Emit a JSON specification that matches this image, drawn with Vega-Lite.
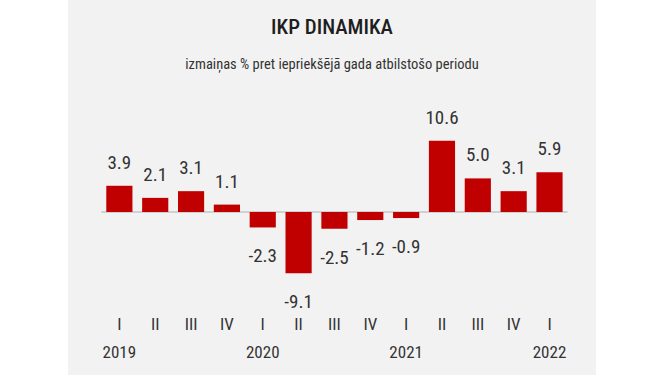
{
  "$schema": "https://vega.github.io/schema/vega-lite/v6.json",
  "width": 528,
  "height": 375,
  "autosize": {"type": "none"},
  "padding": {"left": 68, "right": 69, "top": 0, "bottom": 0},
  "background": "#ffffff",
  "config": {
    "view": {"fill": "#f2f2f2", "stroke": null},
    "font": "Roboto Condensed, Roboto, sans-serif",
    "locale": {"number": {"decimal": ".", "thousands": ",", "grouping": [3], "currency": ["", ""], "minus": "-"}}
  },
  "title": {
    "text": "IKP DINAMIKA",
    "subtitle": "izmaiņas % pret iepriekšējā gada atbilstošo periodu",
    "anchor": "middle",
    "frame": "group",
    "offset": -71,
    "font": "Roboto Condensed, Roboto, sans-serif",
    "fontSize": 21,
    "fontWeight": 500,
    "color": "#1e1e1e",
    "subtitleFont": "Roboto Condensed, Roboto, sans-serif",
    "subtitleFontSize": 14.5,
    "subtitleColor": "#333333",
    "subtitlePadding": 20
  },
  "data": {
    "values": [
      {"q": "2019-I", "v": 3.9},
      {"q": "2019-II", "v": 2.1},
      {"q": "2019-III", "v": 3.1},
      {"q": "2019-IV", "v": 1.1},
      {"q": "2020-I", "v": -2.3},
      {"q": "2020-II", "v": -9.1},
      {"q": "2020-III", "v": -2.5},
      {"q": "2020-IV", "v": -1.2},
      {"q": "2021-I", "v": -0.9},
      {"q": "2021-II", "v": 10.6},
      {"q": "2021-III", "v": 5.0},
      {"q": "2021-IV", "v": 3.1},
      {"q": "2022-I", "v": 5.9}
    ]
  },
  "encoding": {
    "x": {
      "field": "q",
      "type": "ordinal",
      "sort": null,
      "scale": {"paddingInner": 0.27, "paddingOuter": 1.0155, "align": 0.534},
      "axis": {
        "title": null,
        "orient": "bottom",
        "offset": -59,
        "domain": false,
        "ticks": false,
        "labelPadding": 0,
        "labelAngle": 0,
        "labelBaseline": "top",
        "labelFont": "Roboto Condensed, Roboto, sans-serif",
        "labelFontSize": 17,
        "labelColor": "#333333",
        "labelLineHeight": 28,
        "labelExpr": "[split(datum.value, '-')[1], split(datum.value, '-')[1] == 'I' ? split(datum.value, '-')[0] : '']"
      }
    },
    "y": {
      "field": "v",
      "type": "quantitative",
      "scale": {"domain": [-24.26, 31.55], "nice": false, "zero": false},
      "axis": null
    }
  },
  "layer": [
    {
      "mark": {"type": "tick", "color": "#b3b3b3", "thickness": 1.5, "size": 36, "orient": "horizontal"},
      "encoding": {"y": {"datum": 0}}
    },
    {
      "mark": {"type": "bar", "color": "#c00000"},
      "encoding": {"y2": {"datum": 0}}
    },
    {
      "transform": [{"filter": "datum.v >= 0"}],
      "mark": {"type": "text", "baseline": "alphabetic", "dy": -17, "fontSize": 19, "color": "#333333", "font": "Roboto Condensed, Roboto, sans-serif"},
      "encoding": {"text": {"field": "v", "type": "quantitative", "format": ".1f"}}
    },
    {
      "transform": [{"filter": "datum.v < 0"}],
      "mark": {"type": "text", "baseline": "alphabetic", "dy": 35, "fontSize": 19, "color": "#333333", "font": "Roboto Condensed, Roboto, sans-serif"},
      "encoding": {"text": {"field": "v", "type": "quantitative", "format": ".1f"}}
    }
  ]
}
